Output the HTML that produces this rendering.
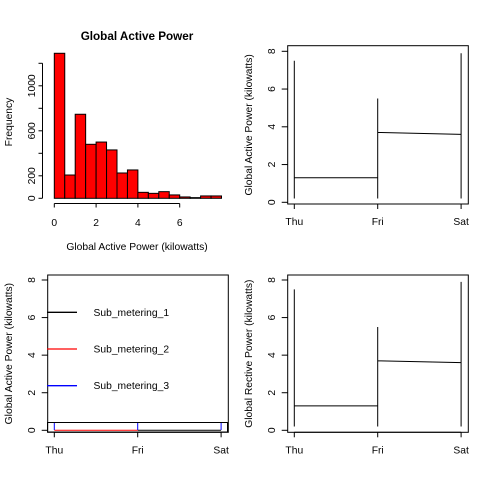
<!DOCTYPE html>
<html><head><meta charset="utf-8"><style>
html,body{margin:0;padding:0;background:#fff;}
svg{display:block;font-family:"Liberation Sans",sans-serif;}
</style></head><body>
<svg id="c" width="480" height="480" viewBox="0 0 480 480"></svg>
<script>
// Histogram data
const histBins = [0,0.5,1,1.5,2,2.5,3,3.5,4,4.5,5,5.5,6,6.5,7,7.5];
const histCounts = [1289,207,747,480,500,430,225,252,53,44,59,30,12,6,21,21];
const histXTicks = [0,2,4,6];
const histYTicks = [0,200,600,1000];
const histYAxisTicks = [0,200,400,600,800,1000,1200];
// Time series data (day index, value)
const dayLabels = ["Thu","Fri","Sat"];
const powerX = [0,0,0,1,1,1,1,2,2,2];
const powerY = [7.5,0.2,1.3,1.3,0.2,5.5,3.7,3.6,0.2,7.9];
const yTicks = [0,2,4,6,8];
const legendLabels = ["Sub_metering_1","Sub_metering_2","Sub_metering_3"];
const legendColors = ["#000","#f00","#00f"];
const sub1X=[1,2], sub1Y=[0,0];
const sub2X=[0,1], sub2Y=[0,0];
const sub3X=[0,0,1,1,2,2], sub3Y=[0,0.45,0,0.45,0,0.45];

const FS=10.3;
const NS="http://www.w3.org/2000/svg";
const svg=document.getElementById('c');
function mk(tag,attrs,parent){const e=document.createElementNS(NS,tag);for(const k in attrs)e.setAttribute(k,attrs[k]);(parent||svg).appendChild(e);return e;}
function txt(s,x,y,attrs,parent){const t=mk('text',Object.assign({x:x,y:y,'font-size':FS,'text-anchor':'middle',fill:'#000'},attrs||{}),parent);t.textContent=s;return t;}

// ---- Histogram ----
const hx=v=>54.3+v*20.9, hy=v=>198.3-v*0.1125;
const g1=mk('g',{});


histCounts.forEach((c,i)=>{
  const r=mk('rect',{x:hx(histBins[i]),y:hy(c),width:hx(0.5)-hx(0),height:hy(0)-hy(c),fill:'#f00',stroke:'#000','stroke-width':1},g1);
  
  
});
mk('line',{x1:hx(0),x2:hx(6),y1:203.5,y2:203.5,stroke:'#000'},g1);
histXTicks.forEach(v=>{mk('line',{x1:hx(v),x2:hx(v),y1:203.5,y2:207.5,stroke:'#000'},g1);const t=txt(String(v),hx(v),226,{},g1);});
mk('line',{x1:42.5,x2:42.5,y1:hy(0),y2:hy(1200),stroke:'#000'},g1);
histYAxisTicks.forEach(v=>mk('line',{x1:38.5,x2:42.5,y1:hy(v),y2:hy(v),stroke:'#000'},g1));
histYTicks.forEach(v=>{const t=txt(String(v),0,0,{transform:`translate(35,${hy(v)}) rotate(-90)`},g1);});
let t=txt('Global Active Power',137,40,{'font-weight':'bold','font-size':11.7},g1);

t=txt('Global Active Power (kilowatts)',137,250,{},g1);

t=txt('Frequency',0,0,{transform:'translate(12,122) rotate(-90)'},g1);


// ---- generic time panel ----
function panel(name,ox,oy,top,bottom,zeroY,eightY,ylab){
  const g=mk('g',{});
  
  
  const x0=294.3-240+ox, x1=377.7-240+ox, x2=461-240+ox;
  const dx=v=>x0+v*(x1-x0);
  const vy=v=>zeroY-v*(zeroY-eightY)/8;
  mk('rect',{x:47.7+ox,y:top,width:180.6,height:bottom-top,fill:'none',stroke:'#000'},g);
  yTicks.forEach(v=>{mk('line',{x1:41.7+ox,x2:47.7+ox,y1:vy(v),y2:vy(v),stroke:'#000'},g);const tt=txt(String(v),0,0,{transform:`translate(${35+ox},${vy(v)}) rotate(-90)`},g);});
  mk('line',{x1:dx(0),x2:dx(2),y1:bottom,y2:bottom,stroke:'#000'},g);
  dayLabels.forEach((d,i)=>{mk('line',{x1:dx(i),x2:dx(i),y1:bottom,y2:bottom+5,stroke:'#000'},g);const tt=txt(d,dx(i),bottom+21,{},g);});
  const yl=txt(ylab,0,0,{transform:`translate(${12+ox},${(top+bottom)/2}) rotate(-90)`},g);
  
  return {g,dx,vy};
}
function poly(p,xs,ys,col,name){
  const pts=xs.map((x,i)=>p.dx(x)+','+p.vy(ys[i])).join(' ');
  const l=mk('polyline',{points:pts,fill:'none',stroke:col,'stroke-width':1},p.g);
  
  
}
const p2=panel('active-power-panel',240,45.7,45.7,204,202.3,51.3,'Global Active Power (kilowatts)');
poly(p2,powerX,powerY,'#000','active-power-line');
const p4=panel('reactive-power-panel',240,275,275,432.3,430.3,280,'Global Rective Power (kilowatts)');
poly(p4,powerX,powerY,'#000','reactive-power-line');
const p3=panel('sub-metering-panel',0,275,275,432.3,430.3,280,'Global Active Power (kilowatts)');
mk('rect',{x:47.5,y:422.5,width:180,height:9.5,fill:'none',stroke:'#000'},p3.g);
poly(p3,sub1X,sub1Y,'#000','sub-metering-1-line');
poly(p3,sub2X,sub2Y,'#f00','sub-metering-2-line');
for(let i=0;i<sub3X.length;i+=2){
  const l=mk('line',{x1:p3.dx(sub3X[i]),x2:p3.dx(sub3X[i+1]),y1:430,y2:423,stroke:'#00f'},p3.g);
  
  
}
legendLabels.forEach((s,i)=>{
  const y=312.3+i*36.7;
  const l=mk('line',{x1:47,x2:77,y1:y,y2:y,stroke:legendColors[i],'stroke-width':1.3},p3.g);
  
  
  const tt=txt(s,93.5,y+3.5,{'text-anchor':'start'},p3.g);
  
  
});
</script>
</body></html>
